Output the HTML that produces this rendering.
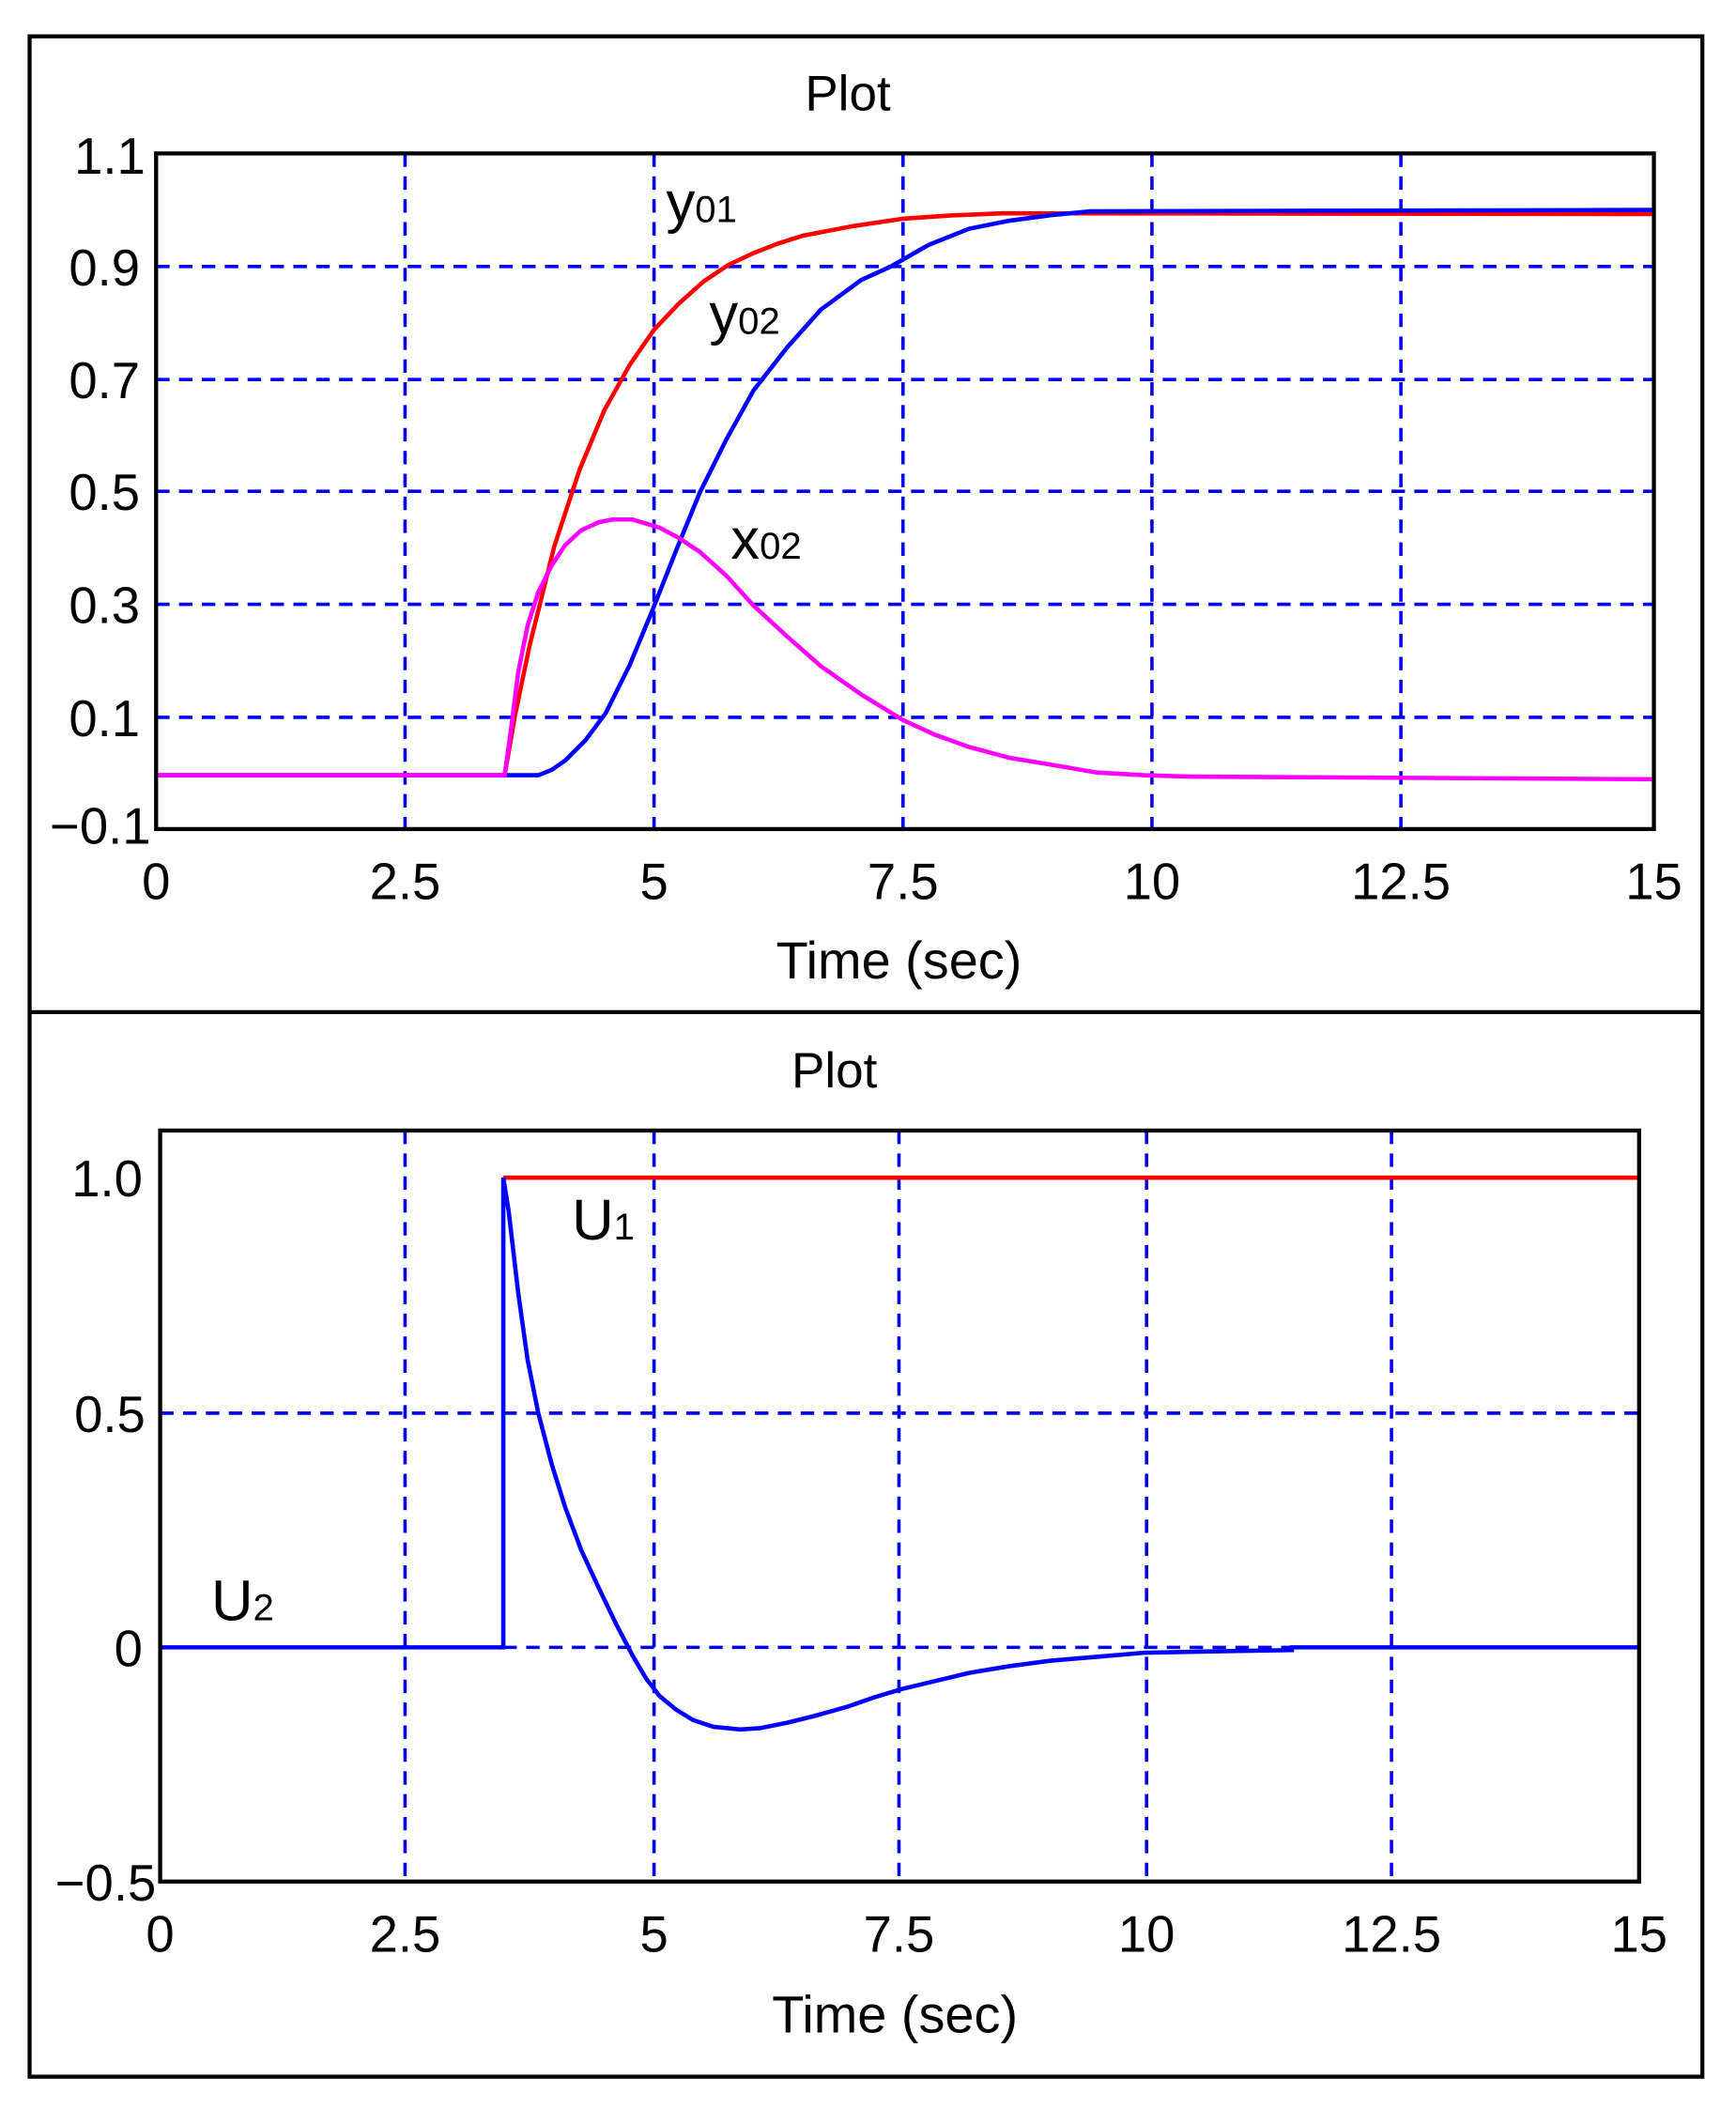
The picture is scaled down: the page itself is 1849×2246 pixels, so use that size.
<!DOCTYPE html>
<html><head><meta charset="utf-8"><style>
html,body{margin:0;padding:0;background:#fff;}
svg{display:block;}
text{font-family:"Liberation Sans",Arial,sans-serif;fill:#000;}
</style></head><body>
<svg width="1849" height="2246" viewBox="0 0 1290 1567" preserveAspectRatio="none" xmlns="http://www.w3.org/2000/svg">
<rect x="0" y="0" width="1290" height="1567" fill="#fff"/>
<rect x="22" y="27" width="1243" height="1516" fill="none" stroke="#000" stroke-width="3"/>
<line x1="22" y1="752" x2="1265" y2="752" stroke="#000" stroke-width="3"/>

<!-- TOP PLOT -->
<text x="630" y="82" font-size="37" text-anchor="middle">Plot</text>
<g stroke="#0000ee" stroke-width="2.5" stroke-dasharray="10,7" fill="none">
<line x1="301" y1="114" x2="301" y2="616"/>
<line x1="486" y1="114" x2="486" y2="616"/>
<line x1="671" y1="114" x2="671" y2="616"/>
<line x1="856" y1="114" x2="856" y2="616"/>
<line x1="1041" y1="114" x2="1041" y2="616"/>
<line x1="116" y1="198" x2="1229" y2="198"/>
<line x1="116" y1="282" x2="1229" y2="282"/>
<line x1="116" y1="365" x2="1229" y2="365"/>
<line x1="116" y1="449" x2="1229" y2="449"/>
<line x1="116" y1="533" x2="1229" y2="533"/>
</g>
<polyline fill="none" stroke="#ff0000" stroke-width="3.2" points="375,576 382.6,532 393.7,479 412,405.5 430.7,349 449,305 468,271 486,245 504,226 523,209 541,197 560,188 578,181 597,175 634,168 671,162.5 708,160 745,158.5 1229,159"/>
<polyline fill="none" stroke="#0000ff" stroke-width="3.2" points="116,576 400,576 410,572 420,565 435,550 450,530 468,494 485,453 502,410 520,366 540,326 560,290 585,258 610,230 640,208 662,198 690,182 720,170 750,164 780,160 810,157 1229,156"/>
<polyline fill="none" stroke="#ff00ff" stroke-width="3.2" points="116,576 375,576 380,540 385,500 392,465 400,440 410,420 420,405 432,394 445,388 455,386 470,386 490,392 505,400 520,410 540,428 560,450 585,473 610,495 640,516 671,535 695,546 720,555 750,563 780,568 815,574 850,576 885,577 1229,579"/>
<rect x="116" y="114" width="1113" height="502" fill="none" stroke="#000" stroke-width="3"/>
<g font-size="38" text-anchor="end">
<text x="108" y="129">1.1</text>
<text x="104" y="212">0.9</text>
<text x="104" y="296">0.7</text>
<text x="104" y="379">0.5</text>
<text x="104" y="463">0.3</text>
<text x="104" y="547">0.1</text>
<text x="112" y="627">−0.1</text>
</g>
<g font-size="38" text-anchor="middle">
<text x="116" y="668">0</text>
<text x="301" y="668">2.5</text>
<text x="486" y="668">5</text>
<text x="671" y="668">7.5</text>
<text x="856" y="668">10</text>
<text x="1041" y="668">12.5</text>
<text x="1229" y="668">15</text>
</g>
<text x="668" y="727" font-size="39" text-anchor="middle">Time (sec)</text>
<text x="495" y="165" font-size="43">y<tspan font-size="28">01</tspan></text>
<text x="527" y="248" font-size="43">y<tspan font-size="28">02</tspan></text>
<text x="543" y="415" font-size="43">x<tspan font-size="28">02</tspan></text>

<!-- BOTTOM PLOT -->
<text x="620" y="808" font-size="37" text-anchor="middle">Plot</text>
<g stroke="#0000ee" stroke-width="2.5" stroke-dasharray="10,7" fill="none">
<line x1="301" y1="840" x2="301" y2="1398"/>
<line x1="486" y1="840" x2="486" y2="1398"/>
<line x1="668" y1="840" x2="668" y2="1398"/>
<line x1="852" y1="840" x2="852" y2="1398"/>
<line x1="1034" y1="840" x2="1034" y2="1398"/>
<line x1="119" y1="1050" x2="1218" y2="1050"/>
<line x1="119" y1="1224" x2="1218" y2="1224"/>
</g>
<polyline fill="none" stroke="#ff0000" stroke-width="3.2" points="374,875 1218,875"/>
<polyline fill="none" stroke="#0000ff" stroke-width="3.2" points="119,1224 374,1224 374,875 378,900 385,960 392,1010 400,1050 410,1088 420,1120 432,1152 445,1180 458,1207 470,1230 480,1247 490,1260 502,1270 515,1278 530,1283 550,1285 565,1284 585,1280 605,1275 630,1268 650,1261 670,1255 695,1249 720,1243 750,1238 780,1234 815,1231 850,1228 900,1227 960,1226 960,1224 1218,1224"/>
<rect x="119" y="840" width="1099" height="558" fill="none" stroke="#000" stroke-width="3"/>
<g font-size="38" text-anchor="end">
<text x="106" y="889">1.0</text>
<text x="108" y="1064">0.5</text>
<text x="106" y="1238">0</text>
<text x="116" y="1412">−0.5</text>
</g>
<g font-size="38" text-anchor="middle">
<text x="119" y="1450">0</text>
<text x="301" y="1450">2.5</text>
<text x="486" y="1450">5</text>
<text x="668" y="1450">7.5</text>
<text x="852" y="1450">10</text>
<text x="1034" y="1450">12.5</text>
<text x="1218" y="1450">15</text>
</g>
<text x="665" y="1510" font-size="39" text-anchor="middle">Time (sec)</text>
<text x="425" y="921" font-size="43">U<tspan font-size="28">1</tspan></text>
<text x="157" y="1204" font-size="43">U<tspan font-size="28">2</tspan></text>
</svg>
</body></html>
